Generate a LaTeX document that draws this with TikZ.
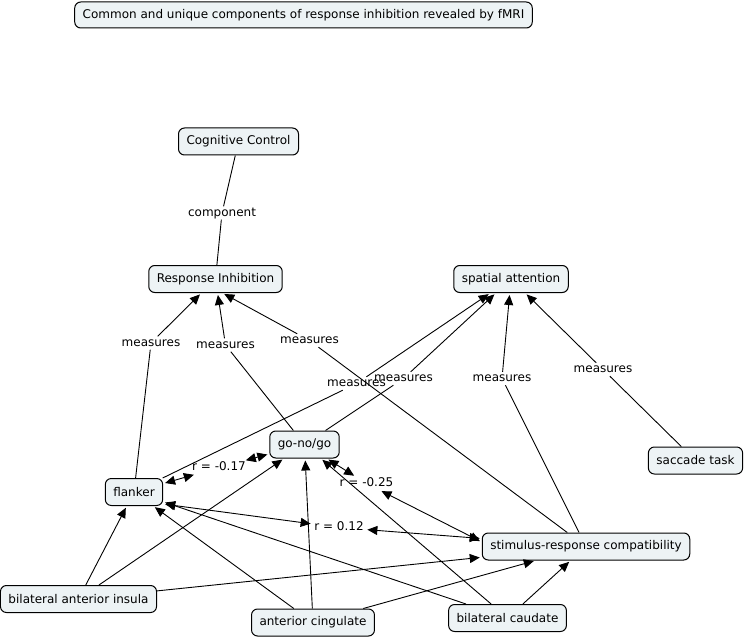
\documentclass[tikz,border=0pt]{standalone}
\usepackage{fontspec}
\setmainfont{DejaVu Sans}
\usetikzlibrary{arrows.meta}
\definecolor{conceptfill}{RGB}{237,243,245}
\begin{document}
\begin{tikzpicture}[x=1pt,y=-1pt,
  font=\fontsize{12}{14}\selectfont,
  concept/.style={draw=black, line width=1pt, fill=conceptfill, rounded corners=6pt,
    minimum height=27pt, inner xsep=8pt, inner ysep=0pt},
  phrase/.style={inner xsep=1.5pt, inner ysep=1pt, text height=8.5pt, text depth=2.5pt},
  link/.style={line width=0.9pt},
  arrowlink/.style={link, -{Triangle[length=10pt,width=9pt]}, shorten >=2pt},
  twoway/.style={link, {Triangle[length=10pt,width=9pt]}-{Triangle[length=10pt,width=9pt]},
    shorten >=2pt, shorten <=2pt}
]
\useasboundingbox (0,0) rectangle (744,639);

% concepts
\node[concept, minimum height=26pt] (title) at (303.5,15)
  {Common and unique components of response inhibition revealed by fMRI};
\node[concept] (cc)  at (238.5,141.5) {Cognitive Control};
\node[concept] (ri)  at (215.5,279)   {Response Inhibition};
\node[concept] (sa)  at (511,279)     {spatial attention};
\node[concept] (gng) at (304.5,444.5) {go-no/go};
\node[concept] (fl)  at (134,492)     {flanker};
\node[concept] (sac) at (695.5,460.5) {saccade task};
\node[concept] (src) at (586,546.5)   {stimulus-response compatibility};
\node[concept] (ins) at (78.5,599)    {bilateral anterior insula};
\node[concept] (cin) at (313,622.5)   {anterior cingulate};
\node[concept] (cau) at (507.5,618)   {bilateral caudate};

% linking phrases
\node[phrase] (comp) at (222,213)     {component};
\node[phrase] (m1)   at (151,343)     {measures};
\node[phrase] (m2)   at (225.5,345)   {measures};
\node[phrase] (m3)   at (309.5,340.5) {measures};
\node[phrase] (m4)   at (356.5,383.5) {measures};
\node[phrase] (m5)   at (403.5,378.5) {measures};
\node[phrase] (m6)   at (502,378.5)   {measures};
\node[phrase] (m7)   at (603,369.5)   {measures};
\node[phrase] (r17)  at (219,467.5)   {r = -0.17};
\node[phrase] (r25)  at (366.5,483.5) {r = -0.25};
\node[phrase] (r12)  at (339,527.5)   {r = 0.12};

% hierarchy
\draw[link] (cc) -- (comp);
\draw[link] (comp) -- (ri);

% task measures
\draw[link] (fl) -- (m1);   \draw[arrowlink] (m1) -- (ri);
\draw[link] (gng) -- (m2);  \draw[arrowlink] (m2) -- (ri);
\draw[link] (src) -- (m3);  \draw[arrowlink] (m3) -- ([xshift=7pt]ri.south);
\draw[link] (fl) -- (m4);   \draw[arrowlink] (m4) -- (sa);
\draw[link] (gng) -- (m5);  \draw[arrowlink] (m5) -- (sa);
\draw[link] (src) -- (m6);  \draw[arrowlink] (m6) -- (sa);
\draw[link] (sac) -- (m7);  \draw[arrowlink] (m7) -- (sa);

% correlations
\draw[twoway] (fl) -- (r17);
\draw[twoway] (r17) -- (gng);
\draw[twoway] (gng) -- (r25);
\draw[twoway] (r25) -- ([yshift=4.5pt]src.west);
\draw[twoway] ([yshift=2pt]fl.south east) -- (r12);
\draw[twoway] (r12) -- ([yshift=8pt]src.west);

% regions
\draw[arrowlink] (ins) -- (fl);
\draw[arrowlink] (ins) -- (gng);
\draw[arrowlink] (ins) -- (src);
\draw[arrowlink] (cin) -- (fl);
\draw[arrowlink] (cin) -- (gng);
\draw[arrowlink] (cin) -- (src);
\draw[arrowlink] (cau) -- (fl);
\draw[arrowlink] (cau) -- (gng);
\draw[arrowlink] (cau) -- (src);
\end{tikzpicture}
\end{document}
